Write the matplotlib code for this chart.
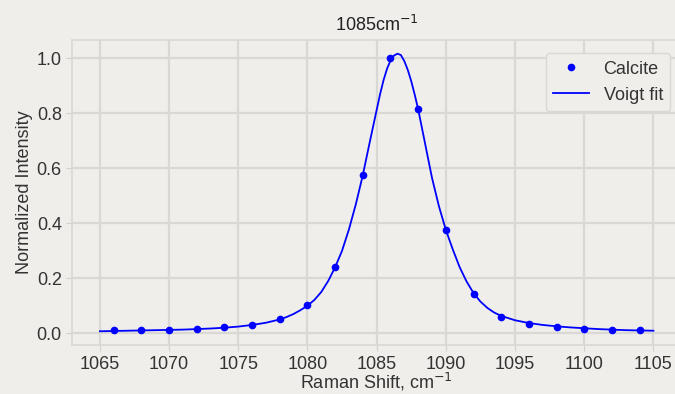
import matplotlib
matplotlib.use("Agg")
import matplotlib.pyplot as plt

# measured points
shift = [1066, 1068, 1070, 1072, 1074, 1076, 1078, 1080, 1082, 1084,
         1086, 1088, 1090, 1092, 1094, 1096, 1098, 1100, 1102, 1104]
intensity = [0.013, 0.013, 0.013, 0.016, 0.021, 0.031, 0.050, 0.101, 0.242, 0.575,
             1.000, 0.815, 0.376, 0.144, 0.060, 0.032, 0.022, 0.016, 0.012, 0.010]

# fitted curve
fit_x = [1065, 1066, 1067, 1068, 1069, 1070, 1071, 1072, 1073, 1074,
         1075, 1076, 1077, 1078, 1078.5, 1079, 1079.5, 1080, 1080.5, 1081,
         1081.5, 1082, 1082.5, 1083, 1083.5, 1084, 1084.5, 1085, 1085.25, 1085.5,
         1085.75, 1086, 1086.25, 1086.5, 1086.75, 1087, 1087.25, 1087.5, 1087.75, 1088,
         1088.5, 1089, 1089.5, 1090, 1090.5, 1091, 1091.5, 1092, 1092.5, 1093,
         1093.5, 1094, 1095, 1096, 1097, 1098, 1099, 1100, 1101, 1102,
         1103, 1104, 1105]
fit_y = [0.007, 0.008, 0.009, 0.010, 0.011, 0.012, 0.013, 0.015, 0.017, 0.020,
         0.024, 0.030, 0.038, 0.050, 0.059, 0.070, 0.084, 0.100, 0.121, 0.150,
         0.190, 0.240, 0.300, 0.378, 0.470, 0.575, 0.695, 0.812, 0.870, 0.921,
         0.962, 0.992, 1.010, 1.017, 1.012, 0.990, 0.958, 0.917, 0.868, 0.815,
         0.690, 0.565, 0.462, 0.376, 0.305, 0.240, 0.188, 0.146, 0.115, 0.092,
         0.075, 0.063, 0.047, 0.037, 0.030, 0.025, 0.021, 0.018, 0.015, 0.013,
         0.011, 0.010, 0.009]

bg = "#efeeea"
plt.rcParams["font.family"] = ["Liberation Sans", "DejaVu Sans"]
plt.rcParams["font.size"] = 13

fig = plt.figure(figsize=(6.75, 3.94), dpi=100, facecolor=bg)
ax = fig.add_axes([0.107, 0.124, 0.902, 0.775], facecolor=bg)

ax.plot(shift, intensity, "o", color="blue", markersize=4.5, label="Calcite")
ax.plot(fit_x, fit_y, "-", color="blue", linewidth=1.3, label="Voigt fit")

ax.set_xticks(range(1065, 1106, 5))
ax.set_yticks([0.0, 0.2, 0.4, 0.6, 0.8, 1.0])
ax.grid(True, color="#d9d8d4", linewidth=1.6)
ax.set_axisbelow(True)
for s in ax.spines.values():
    s.set_color("#d9d8d4")
    s.set_linewidth(1.2)
ax.tick_params(colors="#d0d0d0", labelcolor="#333333", length=4, labelsize=13)

ax.set_title("1085cm$^{-1}$", fontsize=13, color="#222222")
ax.set_xlabel("Raman Shift, cm$^{-1}$", fontsize=13, color="#333333", labelpad=-1)
ax.set_ylabel("Normalized Intensity", fontsize=13, color="#333333", labelpad=3)

leg = ax.legend(loc="upper right", bbox_to_anchor=(0.997, 0.985), facecolor=bg,
                edgecolor="#d9d8d4", fontsize=13, framealpha=1, labelcolor="#333333")

fig.savefig("out.png", dpi=100, facecolor=bg)
